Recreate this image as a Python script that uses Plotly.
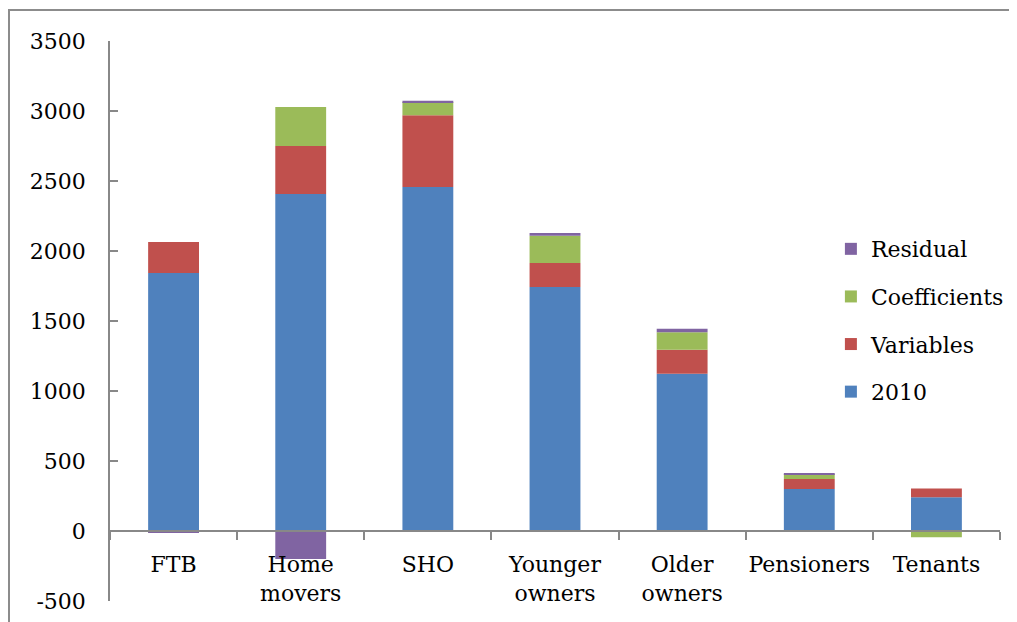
import plotly.graph_objects as go

categories = ["FTB", "Home<br>movers", "SHO", "Younger<br>owners", "Older<br>owners", "Pensioners", "Tenants"]
base_2010 = [1843, 2407, 2457, 1743, 1124, 300, 241]
variables = [221, 343, 513, 171, 171, 71, 62]
coefficients = [-8, 279, 94, 195, 124, 36, -45]
residual = [-5, -200, 10, 20, 26, 7, 0]
y_ticks = [-500, 0, 500, 1000, 1500, 2000, 2500, 3000, 3500]
y_tick_labels = ["-500", "0", "500", "1000", "1500", "2000", "2500", "3000", "3500"]

series = [
    ("2010", base_2010, "#4F81BD", 4),
    ("Variables", variables, "#C0504D", 3),
    ("Coefficients", coefficients, "#9BBB59", 2),
    ("Residual", residual, "#8064A2", 1),
]

font_family = "DejaVu Serif"

fig = go.Figure()
for i, (name, vals, color, rank) in enumerate(series):
    fig.add_trace(go.Bar(
        x=categories, y=vals, name=name,
        marker=dict(color=color, line=dict(width=0)),
        legendgroup=f"g{i}", legendrank=rank,
    ))

fig.update_layout(
    width=1009, height=614,
    barmode="relative",
    bargap=0.6,
    paper_bgcolor="white",
    plot_bgcolor="white",
    margin=dict(l=102, r=17, t=33, b=21, autoexpand=False),
    font=dict(family=font_family, size=22, color="#000000"),
    showlegend=True,
    legend=dict(
        x=0.81, y=0.666, xanchor="left", yanchor="top",
        traceorder="grouped", tracegroupgap=16,
        font=dict(family=font_family, size=22),
        bgcolor="rgba(0,0,0,0)",
        itemwidth=30,
    ),
    xaxis=dict(
        anchor="free", position=0.125,
        showline=True, linecolor="#888888", linewidth=1.5,
        ticks="outside", ticklen=8, tickcolor="#888888", tickwidth=1.5,
        tickson="boundaries", tickangle=0, automargin=False,
        ticklabelstandoff=14,
        showgrid=False, zeroline=False,
        tickfont=dict(family=font_family, size=22),
    ),
    yaxis=dict(
        range=[-500, 3500], tickvals=y_ticks, ticktext=y_tick_labels,
        showline=True, linecolor="#888888", linewidth=1.5,
        ticks="inside", ticklen=8, tickcolor="#888888", tickwidth=1.5,
        showgrid=False, zeroline=False, automargin=False,
        ticklabelstandoff=18,
        tickfont=dict(family=font_family, size=22),
    ),
    shapes=[
        dict(type="rect", xref="paper", yref="paper",
             x0=(9 - 110) / 890, x1=1.2, y0=-0.2, y1=(601 - 10) / 560,
             line=dict(color="#8c8c8c", width=2), fillcolor="rgba(0,0,0,0)",
             layer="below"),
    ],
)

fig.write_html("out.html")
